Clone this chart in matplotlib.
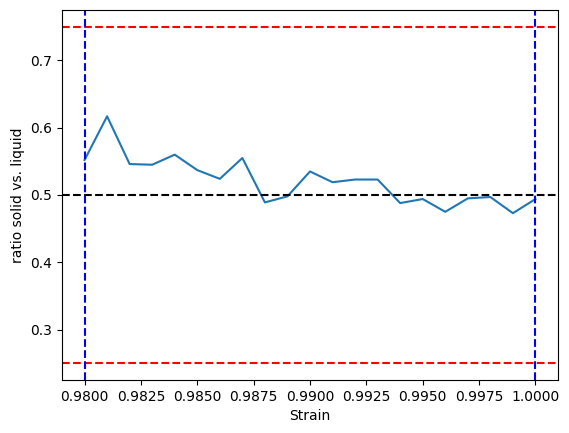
import numpy as np
import matplotlib
matplotlib.use('Agg')
import matplotlib.pyplot as plt

strain = np.round(np.arange(0.980, 1.0005, 0.001), 3)
ratio = [0.552, 0.617, 0.546, 0.545, 0.560, 0.537, 0.524, 0.555, 0.489, 0.498,
         0.535, 0.519, 0.523, 0.523, 0.488, 0.494, 0.475, 0.495, 0.497, 0.473, 0.494]

target = 0.5
upper, lower = 0.75, 0.25

fig = plt.figure(figsize=(5.69, 4.33), dpi=100)
ax = fig.add_axes([62 / 569, 1 - 380 / 433, (558 - 62) / 569, (380 - 10) / 433])

ax.plot(strain, ratio)
ax.axhline(target, color='k', linestyle='--')
ax.axhline(upper, color='r', linestyle='--')
ax.axhline(lower, color='r', linestyle='--')
ax.axvline(strain[0], color='b', linestyle='--')
ax.axvline(strain[-1], color='b', linestyle='--')

ax.set_xlim(0.979, 1.001)
ax.set_ylim(0.225, 0.775)
ax.set_xlabel('Strain')
ax.set_ylabel('ratio solid vs. liquid')

fig.savefig('out.png')
